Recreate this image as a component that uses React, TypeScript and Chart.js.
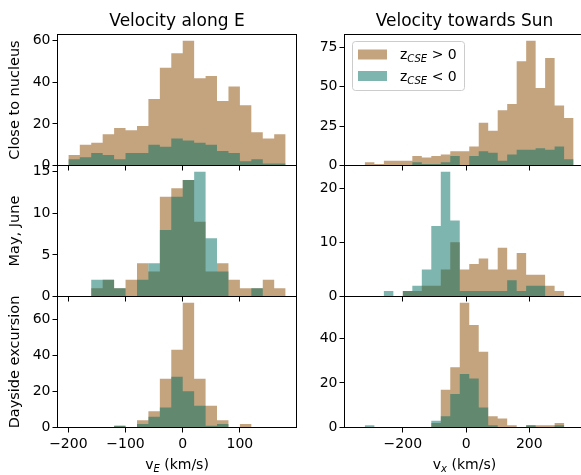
import React, { useEffect, useRef } from 'react';
import { Chart, registerables } from 'chart.js';

Chart.register(...registerables);

const FAMILY = "'DejaVu Sans', 'Liberation Sans', sans-serif";
const BROWN = '#c4a47f';
const TEAL = 'rgba(0,107,95,0.5)';

// Bin centres (histogram bins)
const vEBins = [-190, -170, -150, -130, -110, -90, -70, -50, -30, -10, 10, 30, 50, 70, 90, 110, 130, 150, 170];
const vxBins = [-335, -305, -275, -245, -215, -185, -155, -125, -95, -65, -35, -5, 25, 55, 85, 115, 145, 175, 205, 235, 265, 295, 325];

// Velocity along E
const nucleusEPos = [5, 10, 11, 15, 18, 17, 19, 32, 47, 54, 60, 42, 43, 31, 38, 29, 16, 13, 15];
const nucleusENeg = [3, 4, 6, 5, 3, 6, 6, 10, 9, 13, 12, 11, 10, 7, 6, 2, 3, 1, 1];
const mayEPos = [0, 0, 1, 2, 1, 2, 4, 3, 12, 13, 14, 9, 3, 4, 2, 1, 1, 2, 1];
const mayENeg = [0, 0, 2, 2, 1, 0, 2, 4, 8, 12, 14, 15, 7, 3, 0, 0, 1, 0, 0];
const dayEPos = [0, 0, 0, 0, 1, 0, 4, 9, 27, 43, 69, 27, 12, 4, 0, 2, 0, 0, 0];
const dayENeg = [0, 0, 0, 0, 1, 0, 2, 6, 11, 28, 20, 12, 1, 2, 0, 0, 0, 0, 0];

// Velocity towards Sun
const nucleusXPos = [0, 2, 1, 3, 3, 3, 6, 5, 6, 7, 9, 9, 12, 27, 22, 35, 39, 66, 79, 49, 68, 38, 30];
const nucleusXNeg = [0, 0, 0, 0, 0, 0, 2, 1, 1, 2, 6, 0, 6, 9, 8, 3, 7, 10, 10, 11, 10, 12, 4];
const mayXPos = [0, 0, 0, 0, 0, 1, 1, 2, 2, 5, 10, 5, 6, 7, 5, 9, 5, 8, 4, 4, 2, 1, 0];
const mayXNeg = [0, 0, 0, 1, 0, 1, 2, 5, 13, 23, 14, 1, 1, 1, 1, 1, 3, 1, 2, 2, 0, 0, 0];
const dayXPos = [0, 0, 0, 0, 0, 0, 0, 0, 2, 17, 27, 56, 46, 34, 5, 4, 1, 0, 1, 1, 1, 2, 0];
const dayXNeg = [0, 1, 0, 0, 0, 0, 0, 0, 3, 5, 15, 24, 22, 9, 1, 0, 0, 0, 1, 0, 0, 1, 0];

// Axis ticks / limits
const vETicks = [-200, -100, 0, 100];
const vxTicks = [-200, 0, 200];
const vELimits = [-219, 199];
const vxLimits = [-384.5, 374.5];
const yTicksNucleusE = [0, 20, 40, 60];
const yTicksMayE = [0, 5, 10, 15];
const yTicksDayE = [0, 20, 40, 60];
const yTicksNucleusX = [0, 25, 50, 75];
const yTicksMayX = [0, 10, 20];
const yTicksDayX = [0, 20, 40];

const columnTitles = ['Velocity along E', 'Velocity towards Sun'];
const rowTitles = ['Close to nucleus', 'May, June', 'Dayside excursion'];
const legendLabels = [['z', 'CSE', ' > 0'], ['z', 'CSE', ' < 0']];

const CW = 600;
const CH = 475;
const Y_W = 45;
const X_H = 30;
const COLS = [
  { left: 57.5, right: 296.5 },
  { left: 344.5, right: 584.5 },
];
const ROWS = [
  { top: 34.5, bottom: 165.5 },
  { top: 165.5, bottom: 296.5 },
  { top: 296.5, bottom: 427.5 },
];

type Part = { text: string; size: number; italic?: boolean; dy?: number };

function fontStr(size: number, italic?: boolean) {
  return `${italic ? 'italic ' : ''}${size}px ${FAMILY}`;
}

function drawParts(ctx: CanvasRenderingContext2D, parts: Part[], x: number, baseline: number, align: 'center' | 'left') {
  let total = 0;
  const widths = parts.map((p) => {
    ctx.font = fontStr(p.size, p.italic);
    const w = ctx.measureText(p.text).width;
    total += w;
    return w;
  });
  let cx = align === 'center' ? x - total / 2 : x;
  ctx.textAlign = 'left';
  ctx.textBaseline = 'alphabetic';
  parts.forEach((p, i) => {
    ctx.font = fontStr(p.size, p.italic);
    ctx.fillText(p.text, cx, baseline + (p.dy || 0));
    cx += widths[i];
  });
}

function fmt(v: number) {
  return v < 0 ? '\u2212' + Math.abs(v) : String(v);
}

// Histogram as a step outline: one point per bin edge (value holds until next edge)
function stepData(bins: number[], vals: number[]) {
  const w = bins[1] - bins[0];
  const pts = bins.map((b, i) => ({ x: b - w / 2, y: vals[i] }));
  pts.push({ x: bins[bins.length - 1] + w / 2, y: vals[vals.length - 1] });
  return pts;
}

type Spec = {
  bins: number[];
  pos: number[];
  neg: number[];
  xLim: number[];
  xTicks: number[];
  yMax: number;
  yTicks: number[];
  col: number;
  row: number;
  showXLabels: boolean;
  title?: string;
  yTitle?: string;
  xTitle?: Part[];
  legend?: boolean;
};

function Panel({ spec }: { spec: Spec }) {
  const ref = useRef<HTMLCanvasElement>(null);
  useEffect(() => {
    const c = COLS[spec.col];
    const r = ROWS[spec.row];
    const decor = {
      id: 'decor',
      afterDraw(chart: any) {
        const ctx: CanvasRenderingContext2D = chart.ctx;
        const a = chart.chartArea;
        ctx.save();
        ctx.strokeStyle = '#000';
        ctx.lineWidth = 1;
        ctx.strokeRect(a.left, a.top, a.right - a.left, a.bottom - a.top);
        ctx.fillStyle = '#000';
        const cx = (a.left + a.right) / 2;
        if (spec.title) {
          drawParts(ctx, [{ text: spec.title, size: 17 }], cx, 26, 'center');
        }
        if (spec.xTitle) {
          drawParts(ctx, spec.xTitle, cx, 469, 'center');
        }
        if (spec.yTitle) {
          ctx.save();
          ctx.translate(18.5, (a.top + a.bottom) / 2);
          ctx.rotate(-Math.PI / 2);
          drawParts(ctx, [{ text: spec.yTitle, size: 14.5 }], 0, 0, 'center');
          ctx.restore();
        }
        if (spec.legend) {
          const bx = 352.5, by = 41.5, bw = 112, bh = 49;
          ctx.beginPath();
          (ctx as any).roundRect(bx, by, bw, bh, 3);
          ctx.fillStyle = 'rgba(255,255,255,0.8)';
          ctx.fill();
          ctx.strokeStyle = '#cccccc';
          ctx.stroke();
          ctx.fillStyle = '#fff';
          ctx.fillRect(358, 49.5, 29, 10);
          ctx.fillRect(358, 71, 29, 10);
          ctx.fillStyle = BROWN;
          ctx.fillRect(358, 49.5, 29, 10);
          ctx.fillStyle = TEAL;
          ctx.fillRect(358, 71, 29, 10);
          ctx.fillStyle = '#000';
          legendLabels.forEach((lab, i) => {
            drawParts(
              ctx,
              [
                { text: lab[0], size: 14 },
                { text: lab[1], size: 10, italic: true, dy: 3 },
                { text: lab[2], size: 14 },
              ],
              400,
              58.7 + i * 22,
              'left'
            );
          });
        }
        ctx.restore();
      },
    };

    const common = {
      stepped: 'before',
      fill: 'origin',
      borderWidth: 0,
      borderColor: 'rgba(0,0,0,0)',
      pointRadius: 0,
      pointHoverRadius: 0,
      tension: 0,
    };

    const chart = new Chart(ref.current as HTMLCanvasElement, {
      type: 'line',
      data: {
        datasets: [
          {
            ...common,
            label: 'zCSE > 0',
            data: stepData(spec.bins, spec.pos),
            backgroundColor: BROWN,
            order: 2,
          } as any,
          {
            ...common,
            label: 'zCSE < 0',
            data: stepData(spec.bins, spec.neg),
            backgroundColor: TEAL,
            order: 1,
          } as any,
        ],
      },
      options: {
        responsive: false,
        animation: false,
        devicePixelRatio: 1,
        layout: {
          padding: {
            left: c.left - Y_W,
            right: CW - c.right,
            top: r.top,
            bottom: CH - r.bottom - X_H,
          },
        },
        plugins: {
          legend: { display: false },
          tooltip: { enabled: false },
          title: { display: false },
        },
        scales: {
          x: {
            type: 'linear',
            min: spec.xLim[0],
            max: spec.xLim[1],
            offset: false,
            afterBuildTicks: (s: any) => {
              s.ticks = spec.xTicks.map((v) => ({ value: v }));
            },
            afterFit: (s: any) => {
              s.height = X_H;
            },
            grid: {
              display: true,
              drawOnChartArea: false,
              drawTicks: true,
              tickLength: 5,
              color: '#000',
              lineWidth: 1,
              offset: false,
            },
            border: { display: false },
            ticks: {
              display: spec.showXLabels,
              font: { family: FAMILY, size: 14 },
              color: '#000',
              padding: 3,
              maxRotation: 0,
              autoSkip: false,
              callback: (v: any) => fmt(Number(v)),
            },
          } as any,
          y: {
            type: 'linear',
            min: 0,
            max: spec.yMax,
            afterBuildTicks: (s: any) => {
              s.ticks = spec.yTicks.map((v) => ({ value: v }));
            },
            afterFit: (s: any) => {
              s.width = Y_W;
            },
            grid: {
              display: true,
              drawOnChartArea: false,
              drawTicks: true,
              tickLength: 5,
              color: '#000',
              lineWidth: 1,
            },
            border: { display: false },
            ticks: {
              font: { family: FAMILY, size: 14 },
              color: '#000',
              padding: 2,
              autoSkip: false,
              callback: (v: any) => fmt(Number(v)),
            },
          } as any,
        },
      },
      plugins: [decor],
    });
    return () => chart.destroy();
  }, [spec]);
  return (
    <canvas
      ref={ref}
      width={CW}
      height={CH}
      style={{ position: 'absolute', left: 0, top: 0, width: CW, height: CH }}
    />
  );
}

const vETitle: Part[] = [
  { text: 'v', size: 14 },
  { text: 'E', size: 10, italic: true, dy: 3 },
  { text: ' (km/s)', size: 14 },
];
const vxTitle: Part[] = [
  { text: 'v', size: 14 },
  { text: 'x', size: 10, italic: true, dy: 3 },
  { text: ' (km/s)', size: 14 },
];

const SPECS: Spec[] = [
  { bins: vEBins, pos: nucleusEPos, neg: nucleusENeg, xLim: vELimits, xTicks: vETicks, yMax: 63, yTicks: yTicksNucleusE, col: 0, row: 0, showXLabels: false, title: columnTitles[0], yTitle: rowTitles[0] },
  { bins: vEBins, pos: mayEPos, neg: mayENeg, xLim: vELimits, xTicks: vETicks, yMax: 15.75, yTicks: yTicksMayE, col: 0, row: 1, showXLabels: false, yTitle: rowTitles[1] },
  { bins: vEBins, pos: dayEPos, neg: dayENeg, xLim: vELimits, xTicks: vETicks, yMax: 72.45, yTicks: yTicksDayE, col: 0, row: 2, showXLabels: true, yTitle: rowTitles[2], xTitle: vETitle },
  { bins: vxBins, pos: nucleusXPos, neg: nucleusXNeg, xLim: vxLimits, xTicks: vxTicks, yMax: 82.95, yTicks: yTicksNucleusX, col: 1, row: 0, showXLabels: false, title: columnTitles[1], legend: true },
  { bins: vxBins, pos: mayXPos, neg: mayXNeg, xLim: vxLimits, xTicks: vxTicks, yMax: 24.15, yTicks: yTicksMayX, col: 1, row: 1, showXLabels: false },
  { bins: vxBins, pos: dayXPos, neg: dayXNeg, xLim: vxLimits, xTicks: vxTicks, yMax: 58.8, yTicks: yTicksDayX, col: 1, row: 2, showXLabels: true, xTitle: vxTitle },
];

export default function App() {
  return (
    <div
      style={{
        position: 'absolute',
        left: 0,
        top: 0,
        width: 581,
        height: 475,
        overflow: 'hidden',
        background: '#fff',
      }}
    >
      {SPECS.map((s, i) => (
        <Panel key={i} spec={s} />
      ))}
    </div>
  );
}
